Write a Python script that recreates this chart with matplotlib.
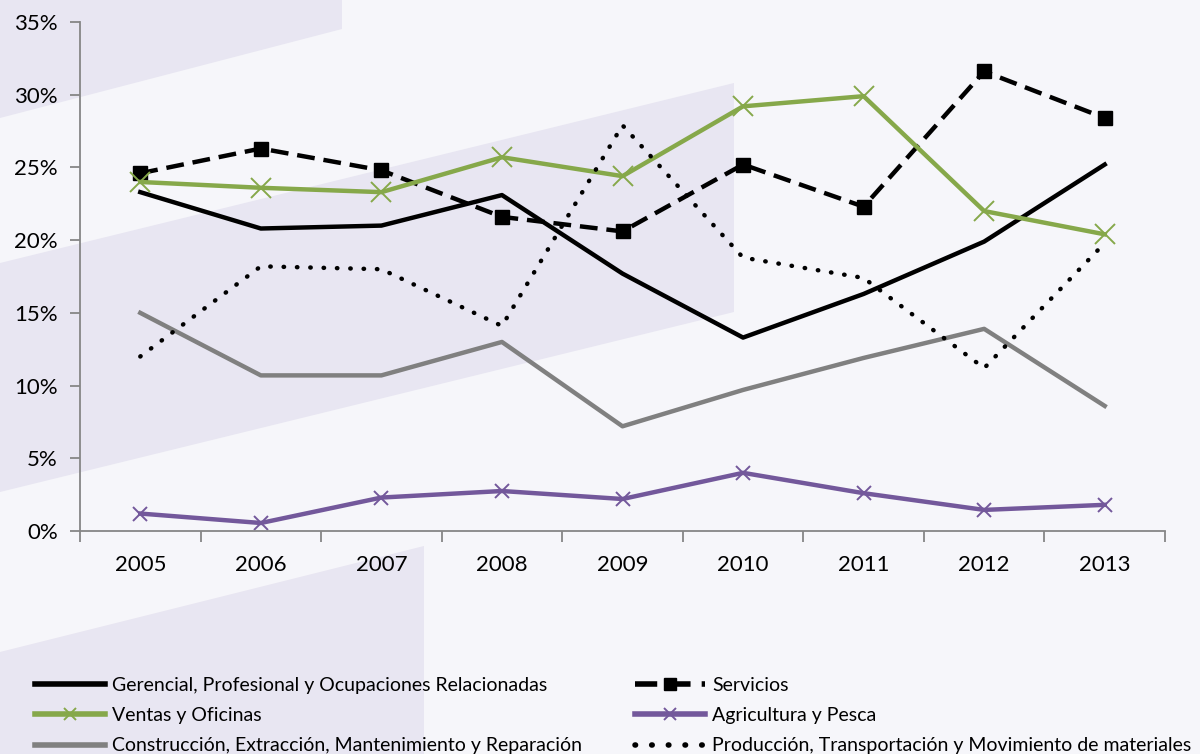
import matplotlib
matplotlib.use("Agg")
import matplotlib.pyplot as plt
from matplotlib.patches import Polygon
from matplotlib.lines import Line2D
from matplotlib.legend_handler import HandlerLine2D

plt.rcParams['font.family'] = ['Lato', 'DejaVu Sans']

years = ['2005', '2006', '2007', '2008', '2009', '2010', '2011', '2012', '2013']
gerencial = [23.3, 20.8, 21.0, 23.1, 17.7, 13.3, 16.3, 19.9, 25.2]
servicios = [24.6, 26.3, 24.8, 21.6, 20.6, 25.2, 22.3, 31.6, 28.4]
ventas = [24.0, 23.6, 23.3, 25.7, 24.4, 29.2, 29.9, 22.0, 20.4]
agricultura = [1.2, 0.55, 2.3, 2.75, 2.2, 4.0, 2.6, 1.45, 1.8]
construccion = [15.0, 10.7, 10.7, 13.0, 7.2, 9.7, 11.9, 13.9, 8.6]
produccion = [12.0, 18.2, 18.0, 14.1, 27.9, 18.8, 17.4, 11.2, 19.8]
yticks = [0, 5, 10, 15, 20, 25, 30, 35]
ytick_labels = ['0%', '5%', '10%', '15%', '20%', '25%', '30%', '35%']

W, H = 1200, 754
fig = plt.figure(figsize=(W / 100, H / 100), dpi=100)
fig.patch.set_facecolor('#F6F6FA')

# background decoration
bg = fig.add_axes([0, 0, 1, 1], zorder=-5)
bg.set_xlim(0, W)
bg.set_ylim(H, 0)
bg.axis('off')
band = '#E8E6F2'
for pts in [
    [(0, 0), (342, 0), (342, 29), (0, 118)],
    [(0, 263), (734, 83), (734, 312), (0, 492)],
    [(0, 652), (424, 546), (424, H), (0, H)],
]:
    bg.add_patch(Polygon(pts, closed=True, facecolor=band, edgecolor='none'))

ax = fig.add_axes([80 / W, 1 - 531 / H, (1165 - 80) / W, (531 - 22) / H])
ax.patch.set_alpha(0)
x = list(range(len(years)))

l1, = ax.plot(x, gerencial, color='black', lw=3.2, solid_joinstyle='round',
              label='Gerencial, Profesional y Ocupaciones Relacionadas')
l2, = ax.plot(x, servicios, color='black', lw=3.2, linestyle=(0, (4, 2)),
              marker='s', markersize=10, label='Servicios')
l3, = ax.plot(x, ventas, color='#86A84A', lw=3.2, marker='x', markersize=14,
              markeredgewidth=1.4, label='Ventas y Oficinas')
l4, = ax.plot(x, agricultura, color='#73589B', lw=3.2, marker='x', markersize=10,
              markeredgewidth=1.4, label='Agricultura y Pesca')
l5, = ax.plot(x, construccion, color='#808080', lw=3.2,
              label='Construcción, Extracción, Mantenimiento y Reparación')
l6, = ax.plot(x, produccion, color='black', lw=3.2, linestyle=(0, (0.1, 2.9)),
              dash_capstyle='round',
              label='Producción, Transportación y Movimiento de materiales')

ax.set_xlim(-0.5, len(years) - 0.5)
ax.set_ylim(0, 35)
ax.set_yticks(yticks)
ax.set_yticklabels(ytick_labels)
ax.set_xticks(x)
ax.set_xticklabels(years)
ax.set_xticks([i - 0.5 for i in range(len(years) + 1)], minor=True)
ax.tick_params(axis='x', which='major', length=0, pad=17, labelsize=16)
ax.tick_params(axis='x', which='minor', length=8, width=1.3, color='#868686', direction='out')
ax.tick_params(axis='y', length=7, width=1.3, color='#868686', labelsize=16, pad=9)
for s in ['top', 'right']:
    ax.spines[s].set_visible(False)
for s in ['left', 'bottom']:
    ax.spines[s].set_color('#868686')
    ax.spines[s].set_linewidth(1.3)


def small_marker(legline, orig):
    legline.update_from(orig)
    legline.set_linewidth(4)
    if orig.get_marker() == 'x':
        legline.set_markersize(9)
    elif orig.get_marker() == 's':
        legline.set_markersize(9)


handles = [l1, l3, l5, l2, l4, l6]
leg = fig.legend(handles=handles, labels=[h.get_label() for h in handles],
                 loc='upper left', bbox_to_anchor=(35 / W, 1 - 677 / H), ncol=2,
                 frameon=False, fontsize=14, handlelength=3.6, handletextpad=0.36,
                 labelspacing=0.68, columnspacing=2.75, numpoints=1,
                 borderaxespad=0, borderpad=0,
                 handler_map={Line2D: HandlerLine2D(update_func=small_marker)})

fig.savefig('out.png', dpi=100, facecolor=fig.get_facecolor())
